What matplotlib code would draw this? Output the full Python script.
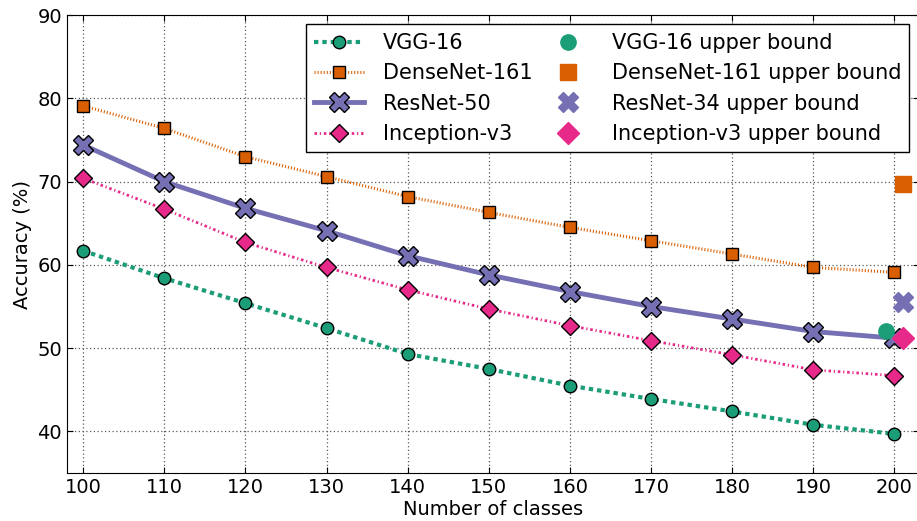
import matplotlib
matplotlib.use("Agg")
import matplotlib.pyplot as plt

classes = [100, 110, 120, 130, 140, 150, 160, 170, 180, 190, 200]
vgg16 = [61.7, 58.4, 55.4, 52.4, 49.3, 47.5, 45.5, 43.9, 42.4, 40.8, 39.7]
densenet161 = [79.1, 76.4, 73.0, 70.6, 68.2, 66.3, 64.5, 62.9, 61.3, 59.7, 59.1]
resnet50 = [74.4, 70.0, 66.8, 64.1, 61.1, 58.8, 56.8, 55.0, 53.5, 52.0, 51.2]
inception = [70.4, 66.7, 62.7, 59.7, 57.0, 54.7, 52.7, 50.9, 49.2, 47.4, 46.7]

# upper bounds (x position, accuracy)
vgg16_ub = (199, 52.1)
densenet161_ub = (201, 69.7)
resnet34_ub = (201, 55.5)
inception_ub = (201, 51.2)

c_green, c_orange, c_purple, c_pink = "#1b9e77", "#d95f02", "#7570b3", "#e7298a"

fig = plt.figure(figsize=(9.17, 5.21), dpi=100)
ax = fig.add_axes([0.073, 0.092, 0.929, 0.879])

ax.plot(classes, vgg16, color=c_green, ls=(0, (1.05, 0.95)), lw=3, marker="o", ms=9,
        mec="black", mew=1, label="VGG-16")
ax.plot(classes, densenet161, color=c_orange, ls=(0, (0.35, 0.65)), lw=2.2, marker="s", ms=9,
        mec="black", mew=1, label="DenseNet-161")
ax.plot(classes, resnet50, color=c_purple, ls="-", lw=3.5, marker="X", ms=14,
        mec="black", mew=1, label="ResNet-50")
ax.plot(classes, inception, color=c_pink, ls=(0, (0.9, 1.0, 0.45, 1.0)), lw=2, marker="D", ms=9,
        mec="black", mew=1, label="Inception-v3")

ax.plot(*vgg16_ub, ls="none", marker="o", ms=11, color=c_green, label="VGG-16 upper bound")
ax.plot(*densenet161_ub, ls="none", marker="s", ms=11, color=c_orange, label="DenseNet-161 upper bound")
ax.plot(*resnet34_ub, ls="none", marker="X", ms=14, color=c_purple, label="ResNet-34 upper bound")
ax.plot(*inception_ub, ls="none", marker="D", ms=11, color=c_pink, label="Inception-v3 upper bound")

ax.set_xlim(98, 203)
ax.set_ylim(35, 90)
ax.set_xticks(classes)
ax.set_yticks([40, 50, 60, 70, 80, 90])
ax.tick_params(direction="in", labelsize=14, length=4, top=True, right=True)
ax.grid(True, ls=(0, (1, 2)), color="0.35", lw=0.9)
ax.set_xlabel("Number of classes", fontsize=14, labelpad=2)
ax.set_ylabel("Accuracy (%)", fontsize=14)

leg = ax.legend(ncol=2, loc="upper right", fontsize=15, fancybox=False,
                edgecolor="black", framealpha=1, borderaxespad=0.45,
                handlelength=2.4, handletextpad=0.9, columnspacing=0.5,
                labelspacing=0.5, borderpad=0.4)
leg.get_frame().set_linewidth(1)

fig.savefig("out.png", dpi=100)
